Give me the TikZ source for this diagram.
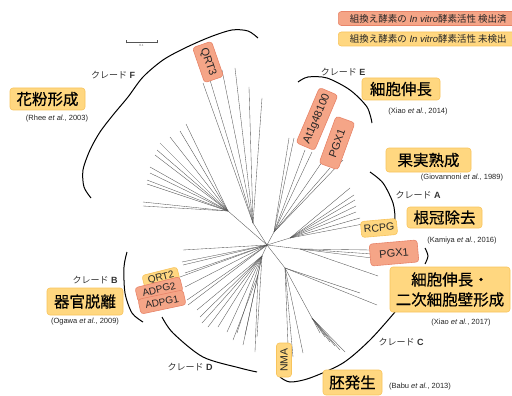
\documentclass[tikz,border=0pt]{standalone}
\usepackage{fontspec}
\setmainfont{Liberation Sans}
\newfontfamily\jp{Noto Sans CJK JP}
\newfontfamily\jpb[FakeBold=0.5]{Noto Sans CJK JP}
\definecolor{salm}{RGB}{245,165,135}
\definecolor{salmd}{RGB}{232,132,105}
\definecolor{yel}{RGB}{255,215,128}
\definecolor{yeld}{RGB}{248,196,92}
\definecolor{treec}{RGB}{85,85,85}
\tikzset{
  sbox/.style={draw=salmd, fill=salm, rounded corners=3pt, line width=0.6pt, inner sep=0pt},
  ybox/.style={draw=yeld, fill=yel, rounded corners=3pt, line width=0.6pt, inner sep=0pt},
  big/.style={ybox, font=\jpb\fontsize{15.5}{20}\selectfont, align=center},
  citet/.style={font=\fontsize{7.5}{9}\selectfont, text=black!85},
  cladet/.style={font=\fontsize{9}{11}\selectfont, text=black!80},
  br/.style={draw=treec, line width=0.35pt},
  arcl/.style={draw=black, line width=1pt},
  genet/.style={font=\fontsize{11}{13}\selectfont, text=black!85},
  legt/.style={font=\fontsize{9.5}{11}\selectfont, text=black!85, anchor=west, align=left, minimum width=180pt, minimum height=14pt, inner xsep=4pt}
}
\newcommand\cladelab[1]{{\jp クレード}\ \textbf{#1}}
\begin{document}
\begin{tikzpicture}[x=1pt,y=-1pt]
\clip (0,0) rectangle (512,396);
\fill[white] (0,0) rectangle (512,396);

% ---------------- tree ----------------
\coordinate (o) at (267,245);
\coordinate (f1) at (253,223);
\coordinate (f2) at (228,211);
\coordinate (e) at (274,232);
\coordinate (a) at (290,238);
\coordinate (p) at (300,249);
\coordinate (c1) at (285,268);
\coordinate (c2) at (312,318);
\coordinate (d) at (262,256);
\coordinate (d2) at (258,275);
\foreach \q in {f1,f2,e,a,p,c1,d} \draw[br] (o) -- (\q);
\draw[br] (c1) -- (c2);
\draw[br] (d) -- (d2);

\foreach [count=\i] \x/\y in {203/83,210/80,222/70,235/68,249/87,262/98}
  {\coordinate (tf\i) at (\x,\y); \draw[br] (f1) -- (tf\i);}
\foreach [count=\i] \x/\y in {186/124,180/131,170/137,160/143,157/150,155/155,150/167,150/173,147/180,147/184,143/202,143/206}
  {\coordinate (tg\i) at (\x,\y); \draw[br] (f2) -- (tg\i);}
\foreach [count=\i] \x/\y in {289/138,294/138,305/150,312/152,322/162,330/168,343/160}
  {\coordinate (te\i) at (\x,\y); \draw[br] (e) -- (te\i);}
\foreach [count=\i] \x/\y in {350/188,354/195,355/200,356/206,356/212,360/218,363/224}
  {\coordinate (ta\i) at (\x,\y); \draw[br] (a) -- (ta\i);}
\foreach [count=\i] \x/\y in {372/250,372/254,372/258,378/276}
  {\coordinate (tp\i) at (\x,\y); \draw[br] (p) -- (tp\i);}
\foreach [count=\i] \x/\y in {360/293,377/305,303/353,293/357,288/345}
  {\coordinate (tc\i) at (\x,\y); \draw[br] (c1) -- (tc\i);}
\foreach [count=\i] \x/\y in {320/333,325/337,330/342,335/346,340/350,345/352}
  {\coordinate (tk\i) at (\x,\y); \draw[br] (c2) -- (tk\i);}
\foreach [count=\i] \x/\y in {197/310,200/317,202/323,208/327,218/327,227/332,237/333,245/335,257/337}
  {\coordinate (td\i) at (\x,\y); \draw[br] (d) -- (td\i);}
\foreach [count=\i] \x/\y in {233/340,243/345,255/352}
  {\coordinate (tq\i) at (\x,\y); \draw[br] (d2) -- (tq\i);}
\foreach [count=\i] \x/\y in {183/250,182/262,183/265,185/273,180/277,185/287,187/300,188/305}
  {\coordinate (tb\i) at (\x,\y); \draw[br] (o) -- (tb\i);}

% ---------------- clade arcs ----------------
\draw[arcl] plot[smooth] coordinates {(258,38) (248,31) (232,30) (210,37) (185,48) (163,60) (143,77) (128,97) (113,115) (100,132) (90,150) (83,170) (84,187) (91,198)};
\draw[arcl] plot[smooth] coordinates {(298,82) (308,77) (327,78) (350,90) (367,107) (372,123)};
\draw[arcl] plot[smooth] coordinates {(370,172) (383,183) (393,203) (395,220) (392,228)};
\draw[arcl] plot[smooth] coordinates {(425,248) (428,256) (425,264)};
\draw[arcl] plot[smooth] coordinates {(395,312) (370,340) (343,363) (310,378) (290,382) (280,377)};
\draw[arcl] plot[smooth] coordinates {(127,252) (124,267) (125,293) (132,313) (143,322)};
\draw[arcl] plot[smooth] coordinates {(162,317) (173,333) (203,357) (240,368) (257,372)};

% ---------------- scale bar ----------------
\coordinate (sb1) at (126,42);
\coordinate (sb2) at (157,42);
\draw[treec, line width=0.4pt] (sb1) -- (sb2);
\draw[treec, line width=0.4pt] ([yshift=-1.5pt]sb1) -- ([yshift=1.5pt]sb1);
\draw[treec, line width=0.4pt] ([yshift=-1.5pt]sb2) -- ([yshift=1.5pt]sb2);
\node[font=\fontsize{3}{3}\selectfont, text=black!60] (sbl) at (141.5,45.5) {0.1};

% ---------------- legend ----------------
\node[sbox, legt] (leg1) at (338,18.5) {{\jp 組換え酵素の} {\itshape In vitro}{\jp 酵素活性 検出済}};
\node[ybox, legt] (leg2) at (338,39) {{\jp 組換え酵素の} {\itshape In vitro}{\jp 酵素活性 未検出}};

% ---------------- gene boxes ----------------
\node[sbox, genet, rotate=-71, minimum width=37pt, minimum height=20pt] (qrt3) at (208,62) {QRT3};
\node[sbox, genet, rotate=67, minimum width=60pt, minimum height=20pt] (at1g) at (317,119) {At1g48100};
\node[sbox, genet, rotate=70, minimum width=50pt, minimum height=20pt] (pgx1a) at (337,143) {PGX1};
\node[ybox, genet, rotate=5, minimum width=36pt, minimum height=16pt, font=\fontsize{10.5}{12}\selectfont] (rcpg) at (379,228) {RCPG};
\node[sbox, genet, rotate=5, minimum width=48pt, minimum height=22pt] (pgx1b) at (394,253) {PGX1};
\node[ybox, genet, rotate=90, minimum width=34pt, minimum height=15pt, font=\fontsize{10.5}{12}\selectfont] (nma) at (284,360) {NMA};
\node[ybox, genet, rotate=14, minimum width=36pt, minimum height=14pt, font=\fontsize{10}{12}\selectfont] (qrt2) at (161,278) {QRT2};
\node[sbox, genet, rotate=14, minimum width=46pt, minimum height=15pt, font=\fontsize{10}{12}\selectfont] (adpg2) at (159,289.5) {ADPG2};
\node[sbox, genet, rotate=12, minimum width=46pt, minimum height=15pt, font=\fontsize{10}{12}\selectfont] (adpg1) at (162,302) {ADPG1};

% ---------------- function boxes ----------------
\node[big, minimum width=75pt, minimum height=22pt] (kafun) at (47.5,99) {花粉形成};
\node[big, minimum width=78pt, minimum height=22pt] (saibo1) at (401,89) {細胞伸長};
\node[big, minimum width=85pt, minimum height=24pt] (kajitsu) at (428.5,160) {果実熟成};
\node[big, minimum width=75pt, minimum height=21pt] (konkan) at (444.5,217.5) {根冠除去};
\node[big, minimum width=120pt, minimum height=45pt] (saibo2) at (450,289.5) {細胞伸長・\\二次細胞壁形成};
\node[big, minimum width=76pt, minimum height=27pt] (kikan) at (85,301.5) {器官脱離};
\node[big, minimum width=59pt, minimum height=25pt] (hai) at (352.5,382.5) {胚発生};

% ---------------- citations ----------------
\node[citet] (c-rhee) at (57,119) {(Rhee \textit{et al.}, 2003)};
\node[citet] (c-xiao14) at (418,112) {(Xiao \textit{et al.}, 2014)};
\node[citet] (c-gio) at (462,178) {(Giovannoni \textit{et al.}, 1989)};
\node[citet] (c-kam) at (462,241) {(Kamiya \textit{et al.}, 2016)};
\node[citet] (c-xiao17) at (461,323) {(Xiao \textit{et al.}, 2017)};
\node[citet] (c-oga) at (85,322) {(Ogawa \textit{et al.}, 2009)};
\node[citet] (c-babu) at (420,387) {(Babu \textit{et al.}, 2013)};

% ---------------- clade labels ----------------
\node[cladet] (cF) at (113,75) {\cladelab{F}};
\node[cladet] (cE) at (343,72) {\cladelab{E}};
\node[cladet] (cA) at (418,195) {\cladelab{A}};
\node[cladet] (cB) at (95,280) {\cladelab{B}};
\node[cladet] (cC) at (401,342) {\cladelab{C}};
\node[cladet] (cD) at (190,367) {\cladelab{D}};
\end{tikzpicture}
\end{document}
